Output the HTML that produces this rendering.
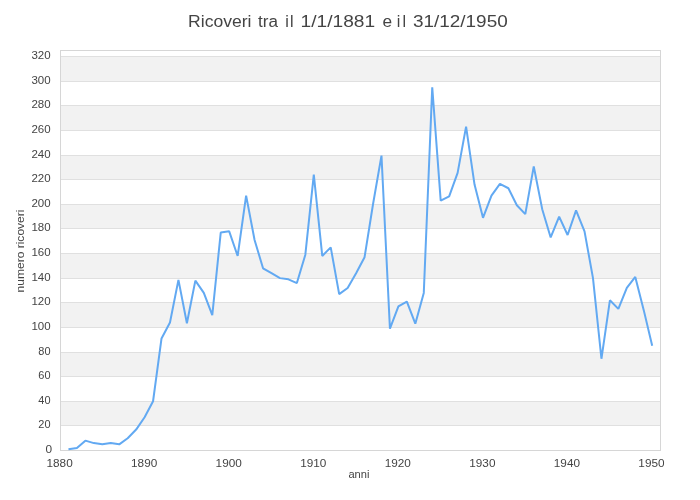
<!DOCTYPE html>
<html><head><meta charset="utf-8"><style>
html,body{margin:0;padding:0;background:#fff;}
body{width:700px;height:500px;overflow:hidden;}
svg{display:block;will-change:transform;}
text{font-family:"Liberation Sans",sans-serif;fill:#444;}
</style></head><body>
<svg width="700" height="500" viewBox="0 0 700 500">
<rect x="0" y="0" width="700" height="500" fill="#fff"/>

<rect x="60" y="401" width="600" height="24" fill="#f2f2f2"/>
<rect x="60" y="352" width="600" height="24" fill="#f2f2f2"/>
<rect x="60" y="302" width="600" height="25" fill="#f2f2f2"/>
<rect x="60" y="253" width="600" height="25" fill="#f2f2f2"/>
<rect x="60" y="204" width="600" height="24" fill="#f2f2f2"/>
<rect x="60" y="155" width="600" height="24" fill="#f2f2f2"/>
<rect x="60" y="105" width="600" height="25" fill="#f2f2f2"/>
<rect x="60" y="56" width="600" height="25" fill="#f2f2f2"/>
<rect x="61" y="425" width="599" height="1" fill="#e0e0e0"/>
<rect x="61" y="401" width="599" height="1" fill="#e0e0e0"/>
<rect x="61" y="376" width="599" height="1" fill="#e0e0e0"/>
<rect x="61" y="352" width="599" height="1" fill="#e0e0e0"/>
<rect x="61" y="327" width="599" height="1" fill="#e0e0e0"/>
<rect x="61" y="302" width="599" height="1" fill="#e0e0e0"/>
<rect x="61" y="278" width="599" height="1" fill="#e0e0e0"/>
<rect x="61" y="253" width="599" height="1" fill="#e0e0e0"/>
<rect x="61" y="228" width="599" height="1" fill="#e0e0e0"/>
<rect x="61" y="204" width="599" height="1" fill="#e0e0e0"/>
<rect x="61" y="179" width="599" height="1" fill="#e0e0e0"/>
<rect x="61" y="155" width="599" height="1" fill="#e0e0e0"/>
<rect x="61" y="130" width="599" height="1" fill="#e0e0e0"/>
<rect x="61" y="105" width="599" height="1" fill="#e0e0e0"/>
<rect x="61" y="81" width="599" height="1" fill="#e0e0e0"/>
<rect x="61" y="56" width="599" height="1" fill="#e0e0e0"/>
<rect x="60.5" y="50.5" width="600" height="400" fill="none" stroke="#d6d6d6" stroke-width="1"/>
<text x="52.0" y="452.6" font-size="11" text-anchor="end" textLength="6.6" lengthAdjust="spacingAndGlyphs">0</text>
<text x="50.5" y="427.6" font-size="11" text-anchor="end" textLength="12.2" lengthAdjust="spacingAndGlyphs">20</text>
<text x="50.5" y="403.6" font-size="11" text-anchor="end" textLength="12.2" lengthAdjust="spacingAndGlyphs">40</text>
<text x="50.5" y="378.6" font-size="11" text-anchor="end" textLength="12.2" lengthAdjust="spacingAndGlyphs">60</text>
<text x="50.5" y="354.6" font-size="11" text-anchor="end" textLength="12.2" lengthAdjust="spacingAndGlyphs">80</text>
<text x="50.6" y="329.6" font-size="11" text-anchor="end" textLength="19.2" lengthAdjust="spacingAndGlyphs">100</text>
<text x="50.6" y="304.6" font-size="11" text-anchor="end" textLength="19.2" lengthAdjust="spacingAndGlyphs">120</text>
<text x="50.6" y="280.6" font-size="11" text-anchor="end" textLength="19.2" lengthAdjust="spacingAndGlyphs">140</text>
<text x="50.6" y="255.6" font-size="11" text-anchor="end" textLength="19.2" lengthAdjust="spacingAndGlyphs">160</text>
<text x="50.6" y="230.6" font-size="11" text-anchor="end" textLength="19.2" lengthAdjust="spacingAndGlyphs">180</text>
<text x="50.6" y="206.6" font-size="11" text-anchor="end" textLength="19.2" lengthAdjust="spacingAndGlyphs">200</text>
<text x="50.6" y="181.6" font-size="11" text-anchor="end" textLength="19.2" lengthAdjust="spacingAndGlyphs">220</text>
<text x="50.6" y="157.6" font-size="11" text-anchor="end" textLength="19.2" lengthAdjust="spacingAndGlyphs">240</text>
<text x="50.6" y="132.6" font-size="11" text-anchor="end" textLength="19.2" lengthAdjust="spacingAndGlyphs">260</text>
<text x="50.6" y="107.6" font-size="11" text-anchor="end" textLength="19.2" lengthAdjust="spacingAndGlyphs">280</text>
<text x="50.6" y="83.6" font-size="11" text-anchor="end" textLength="19.2" lengthAdjust="spacingAndGlyphs">300</text>
<text x="50.6" y="58.6" font-size="11" text-anchor="end" textLength="19.2" lengthAdjust="spacingAndGlyphs">320</text>
<text x="59.60" y="467" font-size="11" text-anchor="middle" textLength="26.2" lengthAdjust="spacingAndGlyphs">1880</text>
<text x="144.15" y="467" font-size="11" text-anchor="middle" textLength="26.2" lengthAdjust="spacingAndGlyphs">1890</text>
<text x="228.70" y="467" font-size="11" text-anchor="middle" textLength="26.2" lengthAdjust="spacingAndGlyphs">1900</text>
<text x="313.25" y="467" font-size="11" text-anchor="middle" textLength="26.2" lengthAdjust="spacingAndGlyphs">1910</text>
<text x="397.80" y="467" font-size="11" text-anchor="middle" textLength="26.2" lengthAdjust="spacingAndGlyphs">1920</text>
<text x="482.35" y="467" font-size="11" text-anchor="middle" textLength="26.2" lengthAdjust="spacingAndGlyphs">1930</text>
<text x="566.90" y="467" font-size="11" text-anchor="middle" textLength="26.2" lengthAdjust="spacingAndGlyphs">1940</text>
<text x="651.45" y="467" font-size="11" text-anchor="middle" textLength="26.2" lengthAdjust="spacingAndGlyphs">1950</text>
<polyline points="68.46,449.27 76.92,448.04 85.38,440.65 93.84,443.11 102.30,444.34 110.76,443.11 119.22,444.34 127.68,438.19 136.14,429.57 144.60,417.26 153.06,401.25 161.52,338.46 169.98,322.45 178.44,279.85 186.90,323.19 195.36,280.59 203.82,292.90 212.28,315.06 220.74,232.57 229.20,231.34 237.66,255.96 246.12,195.63 254.58,239.96 263.04,268.27 271.50,273.20 279.96,278.12 288.42,279.36 296.88,283.05 305.34,254.73 313.80,174.70 322.26,255.96 330.72,247.34 339.18,294.13 347.64,287.98 356.10,273.20 364.56,257.19 373.02,204.25 381.48,155.62 389.94,328.61 398.40,306.44 406.86,301.52 415.32,323.68 423.78,292.90 432.24,87.28 440.70,200.56 449.16,196.37 457.62,172.85 466.08,126.68 474.54,184.55 483.00,217.79 491.46,195.63 499.92,183.93 508.38,188.24 516.84,205.24 525.30,214.10 533.76,166.45 542.22,209.18 550.68,237.49 559.14,216.56 567.60,235.03 576.06,210.41 584.52,231.34 592.98,278.12 601.44,358.77 609.90,300.29 618.36,308.91 626.82,287.98 635.28,276.89 643.74,310.14 652.20,345.84" fill="none" stroke="#62a9f2" stroke-width="2" stroke-linejoin="bevel" stroke-linecap="butt"/>
<text x="188.09" y="26.8" font-size="16" textLength="63.39" lengthAdjust="spacingAndGlyphs">Ricoveri</text>
<text x="257.97" y="26.8" font-size="16" textLength="19.91" lengthAdjust="spacingAndGlyphs">tra</text>
<text x="285.22" y="26.8" font-size="16" textLength="8.22" lengthAdjust="spacing">il</text>
<text x="300.60" y="26.8" font-size="16" textLength="74.53" lengthAdjust="spacingAndGlyphs">1/1/1881</text>
<text x="382.43" y="26.8" font-size="16" textLength="9.62" lengthAdjust="spacingAndGlyphs">e</text>
<text x="396.79" y="26.8" font-size="16" textLength="9.16" lengthAdjust="spacing">il</text>
<text x="413.01" y="26.8" font-size="16" textLength="94.68" lengthAdjust="spacingAndGlyphs">31/12/1950</text>
<text x="358.9" y="478" font-size="11" text-anchor="middle" textLength="21" lengthAdjust="spacingAndGlyphs">anni</text>
<text transform="translate(24.3,251.0) rotate(-90)" x="0" y="0" font-size="11.3" text-anchor="middle" textLength="82.9" lengthAdjust="spacingAndGlyphs">numero ricoveri</text>
</svg></body></html>
